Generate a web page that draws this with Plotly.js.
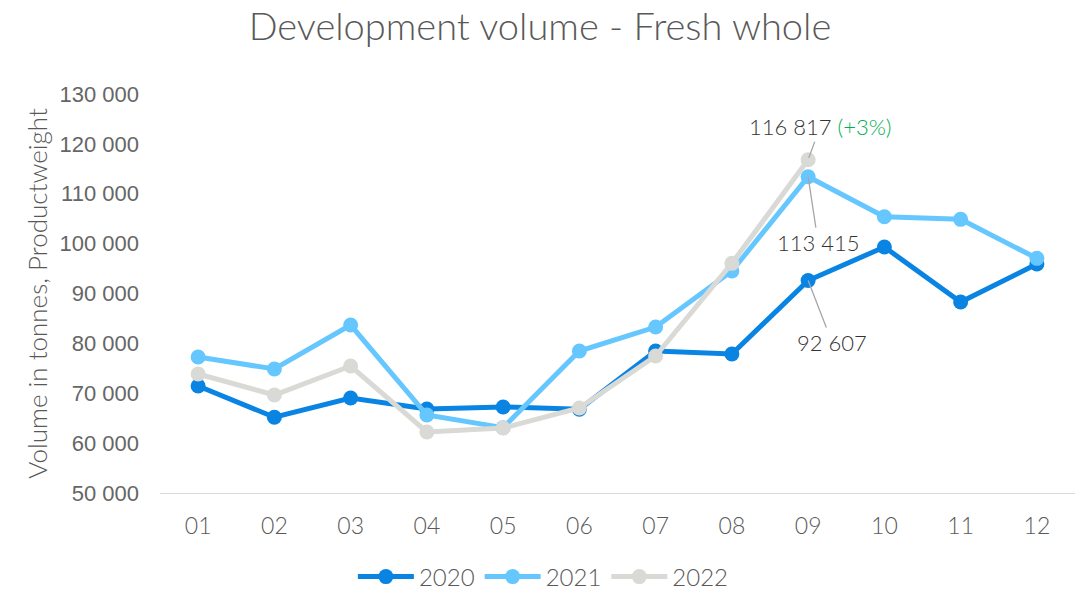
<!DOCTYPE html>
<html>
<head>
<meta charset="utf-8">
<script src="https://cdn.plot.ly/plotly-3.0.1.min.js"></script>
<style>html,body{margin:0;padding:0;background:#fff;}#chart{width:1080px;height:590px;}</style>
</head>
<body>
<div id="chart"></div>
<script>
const months = ["01","02","03","04","05","06","07","08","09","10","11","12"];
const v2020 = [71450, 65200, 69050, 66850, 67250, 66800, 78470, 77870, 92607, 99320, 88300, 95900];
const v2021 = [77270, 74860, 83680, 65640, 63100, 78470, 83280, 94510, 113415, 105400, 104870, 97050];
const v2022 = [73860, 69650, 75460, 62230, 63030, 67040, 77470, 96050, 116817];
const seriesNames = ["2020", "2021", "2022"];
const colors = ["#0A84E3", "#66C7FF", "#D9D9D6"];
const changeLabel = "(+3%)";

const fmt = v => String(v).replace(/\B(?=(\d{3})+(?!\d))/g, " ");
const font = "Lato, 'Open Sans', sans-serif";

function tr(y, i) {
  return {
    x: months.slice(0, y.length), y: y, name: seriesNames[i], type: "scatter", mode: "lines+markers",
    line: {color: colors[i], width: 5}, marker: {color: colors[i], size: 15},
    hoverinfo: "x+y"
  };
}
const data = [tr(v2020, 0), tr(v2021, 1), tr(v2022, 2)];

const annFont = {family: font, size: 22, color: "#333333", weight: 300};
const annotations = [
  {x: 8, y: v2022[8], text: fmt(v2022[8]) + " <span style='color:#00B050'>" + changeLabel + "</span>",
   showarrow: true, arrowhead: 0, arrowwidth: 1.3, arrowcolor: "#A6A6A6", ax: 12, ay: -33, font: annFont, standoff: 2},
  {x: 8, y: v2021[8], text: fmt(v2021[8]), showarrow: true, arrowhead: 0, arrowwidth: 1.3, arrowcolor: "#A6A6A6",
   ax: 10, ay: 66, font: annFont, standoff: 0},
  {x: 8, y: v2020[8], text: fmt(v2020[8]), showarrow: true, arrowhead: 0, arrowwidth: 1.3, arrowcolor: "#A6A6A6",
   ax: 24, ay: 62, font: annFont, standoff: 0}
];

const layout = {
  width: 1080, height: 590,
  margin: {l: 160, r: 5, t: 94, b: 97},
  paper_bgcolor: "#fff", plot_bgcolor: "#fff",
  separators: ". ",
  title: {text: "Development volume - Fresh whole", x: 0.5, xanchor: "center", y: 0.955, yanchor: "middle",
          font: {family: font, size: 38, color: "#595959", weight: 300}},
  xaxis: {type: "category", range: [-0.5, 11.5], showgrid: false, zeroline: false,
          showline: true, linecolor: "#D9D9D9", linewidth: 1.3, ticks: "", automargin: false,
          tickfont: {family: font, size: 23, color: "#595959", weight: 300}, ticklabelstandoff: 12},
  yaxis: {range: [50000, 130000], dtick: 10000, tickformat: ",d", showgrid: false, zeroline: false,
          showline: false, ticks: "", ticklabelstandoff: 20, automargin: false,
          tickfont: {family: "'Liberation Sans', Arial, sans-serif", size: 22, color: "#666666"},
          title: {text: "Volume in tonnes, Productweight", font: {family: font, size: 26, color: "#595959", weight: 300}, standoff: 4}},
  legend: {orientation: "h", x: 0.419, xanchor: "center", yref: "container", y: 0.022, yanchor: "middle",
           itemwidth: 56, font: {family: font, size: 24, color: "#595959", weight: 300}},
  annotations: annotations,
  showlegend: true
};
Plotly.newPlot("chart", data, layout, {displayModeBar: false, staticPlot: true});
</script>
</body>
</html>
